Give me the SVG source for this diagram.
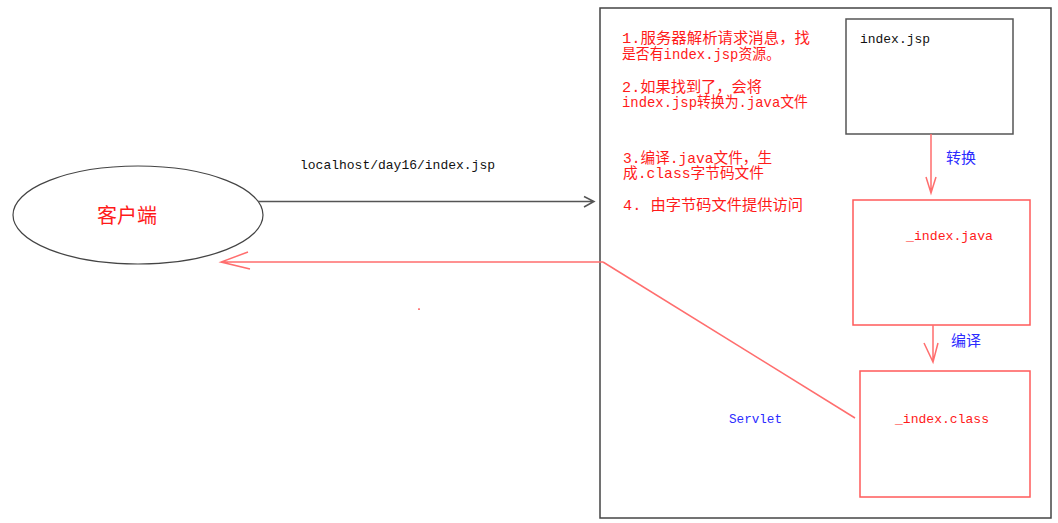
<svg xmlns="http://www.w3.org/2000/svg" width="1058" height="523" viewBox="0 0 1058 523">
<style>
.mono{font-family:"Liberation Mono","Noto Sans CJK SC",monospace;font-size:13px}
.cjk{font-family:"Liberation Mono","Noto Sans CJK SC",sans-serif;font-size:15px}
.red{fill:#ff1a1a}
.blue{fill:#2b2bff}
.blk{fill:#111}
.gl{stroke:#555;stroke-width:1.5;fill:none}
.rl{stroke:#ff6e6e;stroke-width:1.5;fill:none}
</style>
<rect width="1058" height="523" fill="#fff"/>
<g id="server">
<rect x="600" y="8" width="451" height="510" fill="none" stroke="#444" stroke-width="1.5"/>
</g>
<g id="client">
<ellipse cx="138" cy="215" rx="125" ry="49" fill="#fff" stroke="#444" stroke-width="1.2"/>
<text x="127" y="223" text-anchor="middle" font-family="'Noto Sans CJK SC',sans-serif" font-size="20" class="red">客户端</text>
</g>
<g id="steps" class="cjk red">
<text x="622" y="43" textLength="188" lengthAdjust="spacingAndGlyphs">1.服务器解析请求消息，找</text>
<text x="622" y="59" textLength="158" lengthAdjust="spacingAndGlyphs">是否有index.jsp资源。</text>
<text x="622" y="92" textLength="140" lengthAdjust="spacingAndGlyphs">2.如果找到了，会将</text>
<text x="622" y="107" textLength="186" lengthAdjust="spacingAndGlyphs">index.jsp转换为.java文件</text>
<text x="623" y="163" textLength="149" lengthAdjust="spacingAndGlyphs">3.编译.java文件，生</text>
<text x="623" y="178" textLength="141" lengthAdjust="spacingAndGlyphs">成.class字节码文件</text>
<text x="623" y="210" textLength="180" lengthAdjust="spacingAndGlyphs">4. 由字节码文件提供访问</text>
</g>
<g id="jsp">
<rect x="846" y="19" width="167" height="115" fill="#fff" stroke="#555" stroke-width="1.5"/>
<text x="860" y="43" class="mono blk" textLength="70" lengthAdjust="spacingAndGlyphs">index.jsp</text>
</g>
<g id="java">
<rect x="853" y="200" width="177" height="125" fill="#fff" stroke="#ff5a5a" stroke-width="1.5"/>
<text x="906" y="240" class="mono red" textLength="87" lengthAdjust="spacingAndGlyphs">_index.java</text>
</g>
<g id="class">
<rect x="860" y="371" width="170" height="126" fill="#fff" stroke="#ff5a5a" stroke-width="1.5"/>
<text x="895" y="423" class="mono red" textLength="94" lengthAdjust="spacingAndGlyphs">_index.class</text>
</g>
<g id="connectors">
<path class="gl" d="M258 201.5H594M584 196.5L594 201.5L584 207"/>
<text x="300" y="169" class="mono blk" textLength="195" lengthAdjust="spacingAndGlyphs">localhost/day16/index.jsp</text>
<path class="rl" d="M603 262H221M248 252L221 262L250 269"/>
<path class="rl" d="M603 262L855 418"/>
<text x="729" y="423" class="mono blue" textLength="53" lengthAdjust="spacingAndGlyphs">Servlet</text>
<path class="rl" d="M931 134V193M926 177L931 193L936 177"/>
<text x="946" y="163" class="cjk blue">转换</text>
<path class="rl" d="M933 325V362M924 343L933 362L938 343"/>
<text x="951" y="346" class="cjk blue">编译</text>
</g>
<rect x="418" y="308.5" width="2" height="1.2" fill="#ff4444"/>
</svg>
